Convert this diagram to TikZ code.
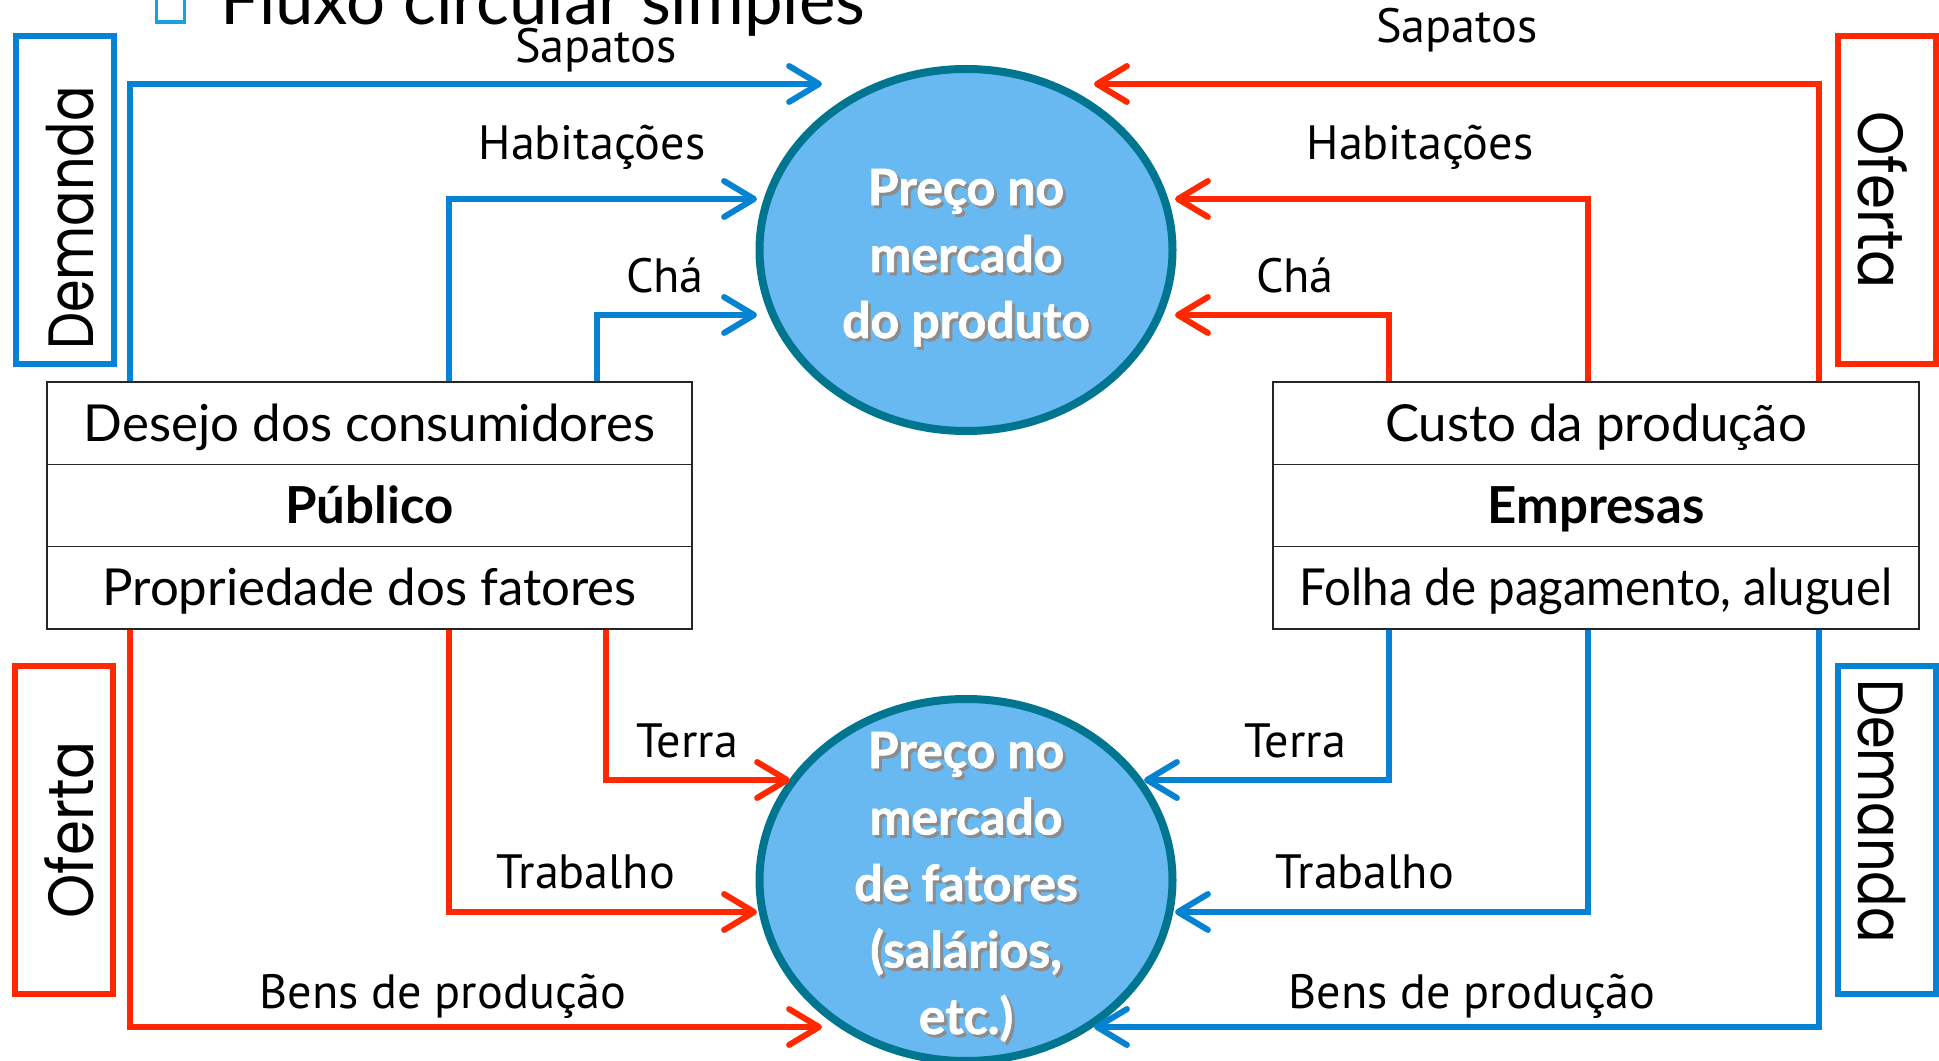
\documentclass[tikz,border=0pt]{standalone}
\usepackage{fontspec}
\usepackage{graphicx}
\setmainfont{Lato}
\newfontfamily\lblfont{PT Sans}
\newfontfamily\geofont{Poppins}
\newfontfamily\heavyfont[BoldFeatures={FakeBold=1.3}]{Lato}
\usetikzlibrary{arrows.meta,shapes.geometric}
\newdimen\pxu \pxu=0.01cm
\definecolor{arblue}{HTML}{0582D2}
\definecolor{arred}{HTML}{FF2800}
\definecolor{circfill}{HTML}{68B9F1}
\definecolor{circedge}{HTML}{007590}
\definecolor{bulletc}{HTML}{1AA0E0}
\tikzset{
 flow/.style={line width=6\pxu, -{Straight Barb[length=8.5pt,width=10.2pt,round]}},
 bflow/.style={flow, draw=arblue},
 rflow/.style={flow, draw=arred},
 lbl/.style={font=\lblfont\fontsize{13.7pt}{16pt}\selectfont, anchor=base, inner sep=0pt},
 cell/.style={draw=black!85, line width=1.5\pxu, minimum height=82.33\pxu, inner sep=0pt, text height=36\pxu, text depth=0pt, font=\fontsize{14.5pt}{17pt}\selectfont},
 lcell/.style={cell, minimum width=645\pxu},
 rcell/.style={cell, minimum width=646\pxu},
 boldcell/.style={font=\bfseries\fontsize{14.5pt}{17pt}\selectfont},
 market/.style={ellipse, draw=circedge, fill=circfill, line width=8\pxu, minimum width=413\pxu, minimum height=362\pxu, inner sep=0pt},
 ctext/.style={font=\heavyfont\bfseries\fontsize{14.2pt}{16pt}\selectfont, text=white, anchor=base, inner sep=0pt},
 cshadow/.style={ctext, text=black!45},
 sidebox/.style={line width=6\pxu, minimum width=98\pxu, minimum height=328\pxu, inner sep=0pt},
 sidetext/.style={font=\geofont\fontsize{18.2pt}{20pt}\selectfont, inner sep=0pt, text height=45\pxu, text depth=0pt},
}
\begin{document}
\begin{tikzpicture}[x=0.01cm,y=-0.01cm]
\useasboundingbox (0,0) rectangle (1939,1061);
\fill[white] (0,0) rectangle (1939,1061);

% title
\node[draw=bulletc, line width=3.5\pxu, minimum width=28\pxu, minimum height=34\pxu, inner sep=0pt] (bul) at (170.5,5) {};
\node[anchor=base west, inner sep=0pt, font=\fontsize{19.6pt}{22pt}\selectfont] (title) at (220,25) {Fluxo circular simples};

% tables
\node[lcell] (pubA) at (369.5,423.2) {Desejo dos consumidores};
\node[lcell, boldcell] (pubB) at (369.5,505.5) {Público};
\node[lcell] (pubC) at (369.5,587.8) {Propriedade dos fatores};
\node[rcell] (empA) at (1596,423.2) {Custo da produção};
\node[rcell, boldcell] (empB) at (1596,505.5) {Empresas};
\node[rcell] (empC) at (1596,587.8) {\scalebox{0.93}[1]{Folha de pagamento, aluguel}};

% markets
\node[market] (pm) at (966,250) {};
\node[market] (fm) at (966,880) {};
\node[cshadow] (pm1s) at (969,208) {Preço no};
\node[cshadow] (pm2s) at (969,275) {mercado};
\node[cshadow] (pm3s) at (969,341) {do produto};
\node[ctext] (pm1) at (966,205) {Preço no};
\node[ctext] (pm2) at (966,272) {mercado};
\node[ctext] (pm3) at (966,338) {do produto};
\node[cshadow] (fm1s) at (969,771) {Preço no};
\node[cshadow] (fm2s) at (969,837.5) {mercado};
\node[cshadow] (fm3s) at (969,904) {de fatores};
\node[cshadow] (fm4s) at (969,970.5) {(salários,};
\node[cshadow] (fm5s) at (969,1037) {etc.)};
\node[ctext] (fm1) at (966,768) {Preço no};
\node[ctext] (fm2) at (966,834.5) {mercado};
\node[ctext] (fm3) at (966,901) {de fatores};
\node[ctext] (fm4) at (966,967.5) {(salários,};
\node[ctext] (fm5) at (966,1034) {etc.)};

% side boxes
\node[sidebox, draw=arblue] (demL) at (64.5,200) {};
\node[sidetext, rotate=90] (demLt) at (71,218) {\scalebox{0.82}[1]{Demanda}};
\node[sidebox, draw=arred] (ofeL) at (64,830) {};
\node[sidetext, rotate=90] (ofeLt) at (71,830) {\scalebox{0.88}[1]{Oferta}};
\node[sidebox, draw=arred] (ofeR) at (1886.5,200) {};
\node[sidetext, rotate=-90] (ofeRt) at (1881,200) {\scalebox{0.88}[1]{Oferta}};
\node[sidebox, draw=arblue] (demR) at (1886.5,830) {};
\node[sidetext, rotate=-90] (demRt) at (1881,811) {\scalebox{0.82}[1]{Demanda}};

% column coordinates
\coordinate (cL1) at (130,0);
\coordinate (cL2) at (449,0);
\coordinate (cL3) at (597,0);
\coordinate (cL4) at (606,0);
\coordinate (cR1) at (1819,0);
\coordinate (cR2) at (1588,0);
\coordinate (cR3) at (1389,0);

% arrow tips
\coordinate (tSapL) at (822,84);
\coordinate (tHabL) at (757,199);
\coordinate (tChaL) at (757,315);
\coordinate (tSapR) at (1094,84);
\coordinate (tHabR) at (1175,199);
\coordinate (tChaR) at (1175,315);
\coordinate (tTerL) at (790,780);
\coordinate (tTraL) at (757,912);
\coordinate (tBenL) at (822,1027);
\coordinate (tTerR) at (1144,780);
\coordinate (tTraR) at (1175,912);
\coordinate (tBenR) at (1094,1027);

% flows: product market
\draw[bflow] (cL1 |- pubA.north) |- (tSapL);
\draw[bflow] (cL2 |- pubA.north) |- (tHabL);
\draw[bflow] (cL3 |- pubA.north) |- (tChaL);
\draw[rflow] (cR1 |- empA.north) |- (tSapR);
\draw[rflow] (cR2 |- empA.north) |- (tHabR);
\draw[rflow] (cR3 |- empA.north) |- (tChaR);
% flows: factor market
\draw[rflow] (cL1 |- pubC.south) |- (tBenL);
\draw[rflow] (cL2 |- pubC.south) |- (tTraL);
\draw[rflow] (cL4 |- pubC.south) |- (tTerL);
\draw[bflow] (cR1 |- empC.south) |- (tBenR);
\draw[bflow] (cR2 |- empC.south) |- (tTraR);
\draw[bflow] (cR3 |- empC.south) |- (tTerR);

% labels
\node[lbl] (lSapL) at (596,63) {Sapatos};
\node[lbl] (lHabL) at (592,160) {Habitações};
\node[lbl] (lChaL) at (665,293) {Chá};
\node[lbl] (lSapR) at (1457,43) {Sapatos};
\node[lbl] (lHabR) at (1420,160) {Habitações};
\node[lbl] (lChaR) at (1295,293) {Chá};
\node[lbl] (lTerL) at (687,757) {Terra};
\node[lbl] (lTraL) at (586,888) {Trabalho};
\node[lbl] (lBenL) at (443,1008) {Bens de produção};
\node[lbl] (lTerR) at (1295,757) {Terra};
\node[lbl] (lTraR) at (1365,888) {Trabalho};
\node[lbl] (lBenR) at (1472,1008) {Bens de produção};
\end{tikzpicture}
\end{document}
